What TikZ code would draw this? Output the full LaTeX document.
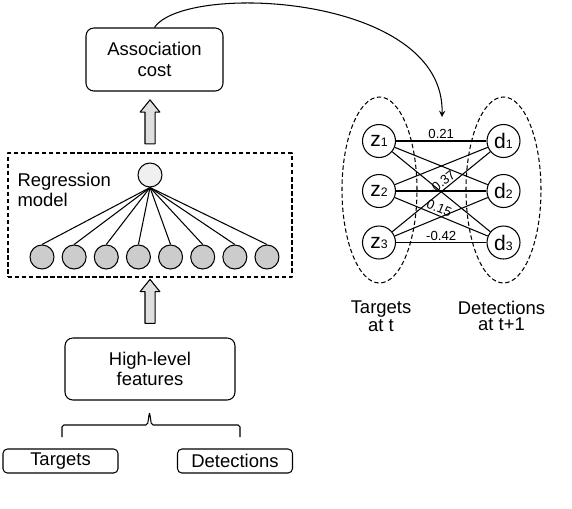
\documentclass[tikz,border=0pt]{standalone}
\usepackage{fontspec}
\setmainfont{Liberation Sans}
\usetikzlibrary{shapes.geometric,shapes.arrows}
\def\u{0.02cm}
\newcommand{\nd}[2]{{\fontsize{12}{12}\selectfont #1}{\fontsize{7}{7}\selectfont #2}}
\tikzset{
	box/.style={draw, rounded corners=4.5pt, align=center, inner sep=0pt},
	smallbox/.style={draw, rounded corners=2.5pt, inner sep=0pt, minimum width=115*\u, minimum height=24*\u},
	blockarrow/.style={single arrow, draw, fill=gray!25, rotate=90, inner xsep=0pt, inner ysep=4.5*\u,
		minimum height=44*\u, single arrow head extend=4.8*\u,
		single arrow tip angle=78},
	unit/.style={circle, draw, inner sep=0pt, minimum size=24*\u},
	obj/.style={circle, draw, inner sep=0pt, minimum size=33*\u},
	group/.style={ellipse, draw, dash pattern=on 2.5pt off 1.5pt, minimum width=75*\u, minimum height=186*\u},
	lbl/.style={font=\fontsize{7.5}{8}\selectfont, inner sep=1pt}
}
\begin{document}
\begin{tikzpicture}[x=\u, y=-\u, >=stealth, font=\fontsize{10.5}{11.8}\selectfont, line join=round, line width=0.6pt]
	\useasboundingbox (0,0) rectangle (572,508);
	% left column
	\node[box, minimum width=137*\u, minimum height=63*\u] (cost) at (154.5,59.5) {Association\\cost};
	\node[blockarrow] (up1) at (150,125) {};
	\node[draw, dash pattern=on 2.5pt off 1.5pt, minimum width=284*\u, minimum height=124*\u] (model) at (150,215) {};
	\node[anchor=north west, inner sep=0pt, align=left, font=\fontsize{10.5}{11.3}\selectfont] (mlab) at (17,173) {Regression\\model};
	\node[unit, fill=gray!12] (out) at (150,175) {};
	\foreach \i in {1,...,8}{
		\node[unit, fill=gray!40] (in\i) at ({42+32.14*(\i-1)},257) {};
		\draw (out.south) -- (in\i.north);
	}
	\node[blockarrow] (up2) at (150,304.5) {};
	\node[box, minimum width=170*\u, minimum height=62*\u] (feat) at (150,369) {High-level\\features};
	% brace
	\draw[rounded corners=1pt] (62,437) -- (62,425) -- (147.5,425) -- (149.5,412) -- (151.5,425) -- (240,425) -- (240,437);
	\node[smallbox] (targets) at (60.5,461) {Targets};
	\node[smallbox] (dets) at (235,461) {Detections};
	% bipartite graph
	\node[group] (tset) at (379.5,190) {};
	\node[group] (dset) at (503.5,190) {};
	\foreach \i/\y in {1/141,2/191,3/242.5}{
		\node[obj] (z\i) at (379,\y) {\nd{z}{\i}};
		\node[obj] (d\i) at (503.5,\y) {\nd{d}{\i}};
	}
	\foreach \i in {1,2,3}
		\foreach \j in {1,2,3}
			\draw (z\i) -- (d\j);
	\path (z1) -- node[lbl, above] {0.21} (d1);
	\path (z3) -- node[lbl, above, sloped, pos=0.55] {-0.37} (d1);
	\path (z2) -- node[lbl, above, sloped, pos=0.45] {0.15} (d3);
	\path (z3) -- node[lbl, above] {-0.42} (d3);
	\node[align=center, font=\fontsize{10.5}{8.8}\selectfont] (tlab) at (381,316) {Targets\\at t};
	\node[align=center, font=\fontsize{10.5}{8.8}\selectfont] (dlab) at (501.5,316) {Detections\\at t+1};
	% cost to graph
	\coordinate (tip) at (442,117);
	\draw[->] (cost.north) .. controls (185,-18) and (445,-6) .. (tip);
\end{tikzpicture}
\end{document}
